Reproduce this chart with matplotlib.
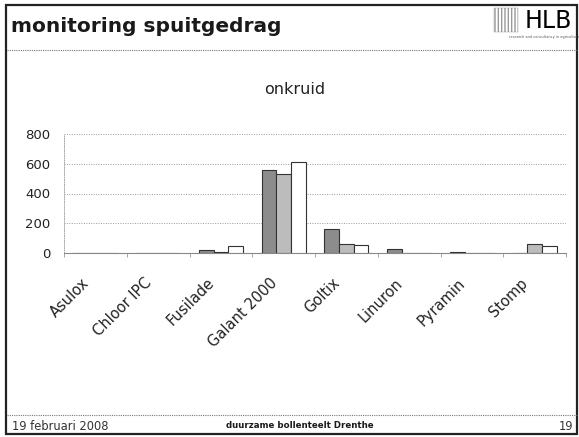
import numpy as np
import matplotlib
matplotlib.use('Agg')
import matplotlib.pyplot as plt
import matplotlib.transforms as mtrans
from matplotlib.patches import Rectangle
from matplotlib.lines import Line2D

# data
middelen = ['Asulox', 'Chloor IPC', 'Fusilade', 'Galant 2000', 'Goltix',
            'Linuron', 'Pyramin', 'Stomp']
serie1 = [0, 0, 22, 555, 160, 27, 8, 0]
serie2 = [0, 0, 10, 530, 62, 0, 0, 58]
serie3 = [0, 0, 45, 615, 52, 0, 0, 45]
yticks = [0, 200, 400, 600, 800]

W, H = 579, 437
fig = plt.figure(figsize=(W / 100, H / 100), dpi=100)
fig.patch.set_facecolor('white')

def fx(px):
    return px / W

def fy(py):
    return 1 - py / H

# slide frame
fig.add_artist(Rectangle((fx(6), fy(434)), fx(571), fy(5) - fy(434),
                         transform=fig.transFigure, fill=False,
                         edgecolor='#222222', lw=1.6))
fig.add_artist(Line2D([fx(7), fx(577)], [fy(50), fy(50)], transform=fig.transFigure,
                      color='#777777', lw=0.8, ls=(0, (1, 1))))
fig.add_artist(Line2D([fx(7), fx(577)], [fy(415), fy(415)], transform=fig.transFigure,
                      color='#777777', lw=0.8, ls=(0, (1, 1))))

# header
fig.text(fx(11), fy(26), 'monitoring spuitgedrag', fontsize=14.5, fontweight='bold',
         color='#1a1a1a', va='center', ha='left')
fig.add_artist(Rectangle((fx(494), fy(32)), fx(24), fy(8) - fy(32),
                         transform=fig.transFigure, facecolor='white',
                         edgecolor='#999999', hatch='|||||', lw=0.3))
fig.text(fx(548), fy(21), 'HLB', fontsize=17, color='black', ha='center', va='center')
fig.text(fx(544), fy(37), 'research and consultancy in agriculture', fontsize=2.5,
         color='#555555', ha='center', va='center')

# footer
fig.text(fx(12), fy(426), '19 februari 2008', fontsize=8.3, color='#333333',
         va='center', ha='left')
fig.text(fx(300), fy(426), 'duurzame bollenteelt Drenthe', fontsize=6.2, fontweight='bold',
         color='#1a1a1a', va='center', ha='center')
fig.text(fx(573), fy(426), '19', fontsize=8.3, color='#333333', va='center', ha='right')

# chart title
fig.text(fx(295), fy(89), 'onkruid', fontsize=11.5, color='#222222', ha='center', va='center')

ax = fig.add_axes([fx(64), fy(253), fx(566) - fx(64), fy(134) - fy(253)])
x = np.arange(len(middelen))
bw = 0.233
kleuren = ['#8c8c8c', '#bcbcbc', 'white']
for i, (vals, c) in enumerate(zip([serie1, serie2, serie3], kleuren)):
    ax.bar(x + (i - 1) * bw, vals, width=bw, color=c, edgecolor='#333333',
           linewidth=0.8, zorder=3)

ax.set_xlim(-0.5, len(middelen) - 0.5)
ax.set_ylim(0, 800)
ax.set_yticks(yticks)
ax.set_yticklabels([str(v) for v in yticks], fontsize=9.5, color='#222222')
ax.tick_params(axis='y', length=0, pad=10)
ax.grid(axis='y', color='#999999', lw=0.7, ls=(0, (1, 1.5)), zorder=0)

ax.set_xticks(x)
ax.set_xticklabels(middelen, rotation=45, ha='right', va='center',
                   rotation_mode='anchor', fontsize=10.5, color='#222222')
ax.tick_params(axis='x', length=0, pad=20)
shift = mtrans.ScaledTranslation(-9 / 100, 0, fig.dpi_scale_trans)
for lab in ax.get_xticklabels():
    lab.set_transform(lab.get_transform() + shift)
ax.set_xticks(np.arange(len(middelen) + 1) - 0.5, minor=True)
ax.tick_params(axis='x', which='minor', length=3, color='#999999', width=0.6)

for s in ['top', 'right']:
    ax.spines[s].set_visible(False)
ax.spines['left'].set_color('#aaaaaa')
ax.spines['left'].set_linestyle((0, (1, 1.5)))
ax.spines['left'].set_linewidth(0.7)
ax.spines['bottom'].set_color('#888888')
ax.spines['bottom'].set_linewidth(0.8)

fig.savefig('out.png', dpi=100, facecolor='white')
